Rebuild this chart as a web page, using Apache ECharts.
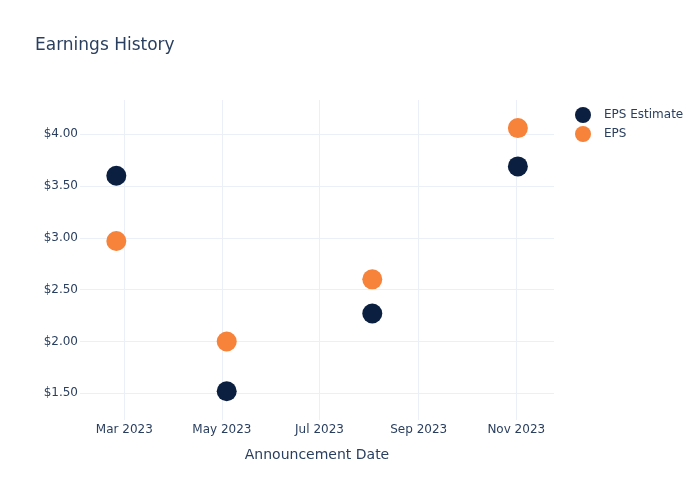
<!DOCTYPE html>
<html>
<head>
<meta charset="utf-8">
<script src="https://cdn.jsdelivr.net/npm/echarts@6/dist/echarts.min.js"></script>
<style>html,body{margin:0;padding:0;background:#fff}#c{width:700px;height:500px}</style>
</head>
<body>
<div id="c"></div>
<script>
// ---- data ----
const announcementDates = ['2023-02-24', '2023-05-04', '2023-08-03', '2023-11-02'];
const epsEstimate = [3.60, 1.52, 2.27, 3.69];
const epsActual = [2.97, 2.00, 2.60, 4.06];
const xTickDates = ['2023-03-01', '2023-05-01', '2023-07-01', '2023-09-01', '2023-11-01'];
const xTickLabels = ['Mar 2023', 'May 2023', 'Jul 2023', 'Sep 2023', 'Nov 2023'];
const yTickValues = [1.5, 2.0, 2.5, 3.0, 3.5, 4.0];
const yTickLabels = ['$1.50', '$2.00', '$2.50', '$3.00', '$3.50', '$4.00'];

function ts(s) {
  const p = s.split(/[- :]/).map(Number);
  return Date.UTC(p[0], p[1] - 1, p[2], p[3] || 0, p[4] || 0);
}
const xTickTs = xTickDates.map(ts);
const textColor = '#2a3f5f';
const gridColor = '#EBF0F8';
const font = 'DejaVu Sans, Open Sans, Verdana, sans-serif';

const chart = echarts.init(document.getElementById('c'));
chart.setOption({
  animation: false,
  backgroundColor: '#fff',
  textStyle: { fontFamily: font },
  title: {
    text: 'Earnings History',
    left: 30, top: 32,
    textStyle: { fontSize: 17, fontWeight: 'normal', color: textColor, fontFamily: font }
  },
  legend: {
    data: ['EPS Estimate', 'EPS'],
    orient: 'vertical',
    left: 570, top: 102,
    icon: 'circle',
    itemWidth: 16, itemHeight: 16, itemGap: 3,
    textStyle: { fontSize: 12, color: textColor, fontFamily: font, padding: [0, 0, 0, 8] }
  },
  grid: { left: 80, right: 146, top: 100, bottom: 80 },
  xAxis: {
    type: 'value',
    min: ts('2023-02-01 07:00'),
    max: ts('2023-11-24 14:00'),
    name: 'Announcement Date',
    nameLocation: 'middle',
    nameGap: 28,
    nameTextStyle: { fontSize: 14, color: textColor, fontFamily: font },
    axisLine: { show: false },
    axisTick: { show: false },
    splitLine: { show: false },
    axisLabel: {
      customValues: xTickTs,
      margin: 4,
      fontSize: 12, color: textColor, fontFamily: font,
      formatter: function (v) {
        for (let i = 0; i < xTickTs.length; i++) {
          if (Math.abs(xTickTs[i] - v) < 3600000) return xTickLabels[i];
        }
        return '';
      }
    }
  },
  yAxis: {
    type: 'value',
    min: 1.242,
    max: 4.331,
    axisLine: { show: false },
    axisTick: { show: false },
    splitLine: { show: false },
    axisLabel: {
      customValues: yTickValues,
      margin: 2,
      fontSize: 12, color: textColor, fontFamily: font,
      formatter: function (v) {
        for (let i = 0; i < yTickValues.length; i++) {
          if (Math.abs(yTickValues[i] - v) < 1e-6) return yTickLabels[i];
        }
        return '';
      }
    }
  },
  series: [
    {
      name: 'grid',
      type: 'line',
      data: [],
      z: 0,
      silent: true,
      markLine: {
        silent: true,
        z: 0,
        symbol: ['none', 'none'],
        label: { show: false },
        lineStyle: { color: gridColor, width: 1, type: 'solid' },
        emphasis: { disabled: true },
        data: xTickTs.map(t => ({ xAxis: t })).concat(yTickValues.map(v => ({ yAxis: v })))
      }
    },
    {
      name: 'EPS Estimate',
      type: 'scatter',
      symbolSize: 20,
      z: 3,
      itemStyle: { color: '#0B1F41', opacity: 1 },
      data: announcementDates.map((d, i) => [ts(d), epsEstimate[i]])
    },
    {
      name: 'EPS',
      type: 'scatter',
      symbolSize: 20,
      z: 3,
      itemStyle: { color: '#F7823A', opacity: 1 },
      data: announcementDates.map((d, i) => [ts(d), epsActual[i]])
    }
  ]
});
</script>
</body>
</html>
